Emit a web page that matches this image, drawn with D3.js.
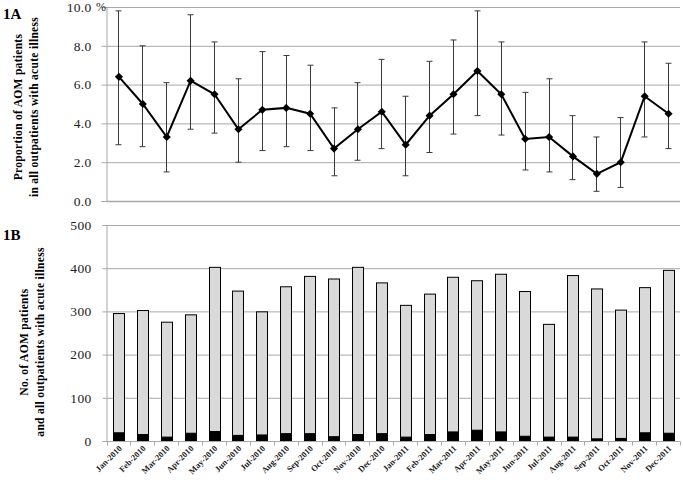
<!DOCTYPE html>
<html>
<head>
<meta charset="utf-8">
<script src="https://cdn.jsdelivr.net/npm/d3@7"></script>
<style>
  body { margin: 0; background: #fff; }
  svg text { font-family: "Liberation Serif", "Times New Roman", serif; }
</style>
</head>
<body>
<svg id="chart" width="683" height="480"></svg>
<script>
// months on the x axis
const months = ["Jan-2010","Feb-2010","Mar-2010","Apr-2010","May-2010","Jun-2010",
  "Jul-2010","Aug-2010","Sep-2010","Oct-2010","Nov-2010","Dec-2010",
  "Jan-2011","Feb-2011","Mar-2011","Apr-2011","May-2011","Jun-2011",
  "Jul-2011","Aug-2011","Sep-2011","Oct-2011","Nov-2011","Dec-2011"];

// 1A: proportion (%) with 95% CI
const proportion = [6.4, 5.0, 3.3, 6.2, 5.5, 3.7, 4.7, 4.8, 4.5, 2.7, 3.7, 4.6,
  2.9, 4.4, 5.5, 6.7, 5.5, 3.2, 3.3, 2.3, 1.4, 2.0, 5.4, 4.5];
const ciLow = [2.9, 2.8, 1.5, 3.7, 3.5, 2.0, 2.6, 2.8, 2.6, 1.3, 2.1, 2.7,
  1.3, 2.5, 3.45, 4.4, 3.4, 1.6, 1.5, 1.1, 0.5, 0.7, 3.3, 2.7];
const ciHigh = [9.8, 8.0, 6.1, 9.6, 8.2, 6.3, 7.7, 7.5, 7.0, 4.8, 6.1, 7.3,
  5.4, 7.2, 8.3, 9.8, 8.2, 5.6, 6.3, 4.4, 3.3, 4.3, 8.2, 7.1];

// 1B: counts
const allPatients = [295, 302, 275, 292, 402, 347, 299, 357, 381, 375, 402, 366,
  314, 340, 379, 371, 386, 346, 270, 383, 352, 303, 355, 395];
const aomPatients = [19, 15, 9, 18, 22, 13, 14, 17, 17, 10, 15, 17,
  9, 15, 21, 25, 21, 11, 9, 9, 5, 6, 19, 18];

const ticksA = [0, 2, 4, 6, 8, 10];
const ticksB = [0, 100, 200, 300, 400, 500];

const svg = d3.select("#chart");
const gridColor = "#a8a8a8";

const x = d3.scaleBand()
  .domain(months)
  .range([106.5, 680])
  .paddingInner(0.54)
  .paddingOuter(0.27);
const cx = m => x(m) + x.bandwidth() / 2;

// ── panel A ─────────────────────────────────────────────
const yA = d3.scaleLinear().domain([0, 10]).range([201, 7]);

svg.append("g").selectAll("line")
  .data(ticksA)
  .join("line")
    .attr("x1", 106.5).attr("x2", 680)
    .attr("y1", d => yA(d) + 0.5).attr("y2", d => yA(d) + 0.5)
    .attr("stroke", gridColor)
    .attr("stroke-width", d => d === 0 ? 1.5 : 1);

const axisA = svg.append("g")
  .attr("transform", "translate(106.5,0)")
  .call(d3.axisLeft(yA).tickValues(ticksA).tickFormat(d3.format(".1f"))
    .tickSize(5).tickPadding(10));
axisA.select(".domain").attr("stroke", gridColor);
axisA.selectAll(".tick line").attr("stroke", gridColor);
axisA.selectAll(".tick text").attr("font-size", 13.5).attr("fill", "#222")
  .attr("letter-spacing", 0.3);

svg.append("text")
  .attr("x", 96).attr("y", yA(10) + 4)
  .attr("font-size", 12).attr("fill", "#222")
  .text("%");

// error bars
const eb = svg.append("g").attr("stroke", "#3a3a3a").attr("stroke-width", 1);
months.forEach((m, i) => {
  const px = Math.round(cx(m)) + 0.5;
  eb.append("line").attr("x1", px).attr("x2", px)
    .attr("y1", yA(ciLow[i])).attr("y2", yA(ciHigh[i]));
  [ciLow[i], ciHigh[i]].forEach(v => {
    eb.append("line").attr("x1", px - 3).attr("x2", px + 3)
      .attr("y1", yA(v)).attr("y2", yA(v));
  });
});

svg.append("path")
  .datum(proportion)
  .attr("fill", "none")
  .attr("stroke", "#000")
  .attr("stroke-width", 2)
  .attr("d", d3.line().x((d, i) => cx(months[i]) + 0.5).y(d => yA(d)));

svg.append("g").selectAll("path")
  .data(proportion)
  .join("path")
    .attr("transform", (d, i) => `translate(${cx(months[i]) + 0.5},${yA(d)})`)
    .attr("d", d3.symbol(d3.symbolDiamond2, 42))
    .attr("fill", "#000");

svg.append("text")
  .attr("x", 3).attr("y", 19)
  .attr("font-size", 15).attr("font-weight", "bold")
  .text("1A");

const titleA = svg.append("text")
  .attr("transform", "translate(0,107) rotate(-90)")
  .attr("text-anchor", "middle")
  .attr("font-size", 11.5).attr("font-weight", "bold")
  .attr("letter-spacing", 0.3);
titleA.append("tspan").attr("x", 0).attr("y", 22).text("Proportion of AOM patients");
titleA.append("tspan").attr("x", 0).attr("y", 38).text("in all outpatients with acute illness");

// ── panel B ─────────────────────────────────────────────
const yB = d3.scaleLinear().domain([0, 500]).range([441, 225]);

svg.append("g").selectAll("line")
  .data(ticksB)
  .join("line")
    .attr("x1", 106.5).attr("x2", 680)
    .attr("y1", d => yB(d) + 0.5).attr("y2", d => yB(d) + 0.5)
    .attr("stroke", gridColor)
    .attr("stroke-width", 1);

const axisB = svg.append("g")
  .attr("transform", "translate(106.5,0)")
  .call(d3.axisLeft(yB).tickValues(ticksB).tickSize(4).tickPadding(11));
axisB.select(".domain").attr("stroke", gridColor);
axisB.selectAll(".tick line").attr("stroke", gridColor);
axisB.selectAll(".tick text").attr("font-size", 13.5).attr("fill", "#222")
  .attr("letter-spacing", 0.3);

svg.append("g").selectAll("rect")
  .data(allPatients)
  .join("rect")
    .attr("x", (d, i) => Math.round(x(months[i])) + 0.5)
    .attr("width", Math.round(x.bandwidth()))
    .attr("y", d => yB(d))
    .attr("height", d => yB(0) - yB(d))
    .attr("fill", "#d9d9d9")
    .attr("stroke", "#000")
    .attr("stroke-width", 1);

svg.append("g").selectAll("rect")
  .data(aomPatients)
  .join("rect")
    .attr("x", (d, i) => Math.round(x(months[i])) + 0.5)
    .attr("width", Math.round(x.bandwidth()))
    .attr("y", d => yB(d))
    .attr("height", d => yB(0) - yB(d))
    .attr("fill", "#000")
    .attr("stroke", "#000")
    .attr("stroke-width", 1);

// bottom axis with ticks between categories
const xAxisB = svg.append("g").attr("transform", "translate(0,441.5)");
xAxisB.append("line").attr("x1", 106.5).attr("x2", 680).attr("stroke", gridColor);
xAxisB.selectAll("line.tk")
  .data(months.concat(["end"]))
  .join("line")
    .attr("class", "tk")
    .attr("x1", (d, i) => Math.round(106.5 + i * x.step()) + 0.5)
    .attr("x2", (d, i) => Math.round(106.5 + i * x.step()) + 0.5)
    .attr("y1", 0).attr("y2", 4)
    .attr("stroke", gridColor);

svg.append("g").selectAll("text")
  .data(months)
  .join("text")
    .attr("transform", d => `translate(${cx(d) + 4},${449}) rotate(-45)`)
    .attr("text-anchor", "end")
    .attr("font-size", 8.5)
    .attr("font-weight", "bold")
    .attr("fill", "#222")
    .text(d => d);

svg.append("text")
  .attr("x", 3).attr("y", 240)
  .attr("font-size", 15).attr("font-weight", "bold")
  .text("1B");

const titleB = svg.append("text")
  .attr("transform", "translate(0,342) rotate(-90)")
  .attr("text-anchor", "middle")
  .attr("font-size", 11.5).attr("font-weight", "bold")
  .attr("letter-spacing", 0.3);
titleB.append("tspan").attr("x", 0).attr("y", 28).text("No. of AOM patients");
titleB.append("tspan").attr("x", 0).attr("y", 44).text("and all outpatients with acute illness");
</script>
</body>
</html>
